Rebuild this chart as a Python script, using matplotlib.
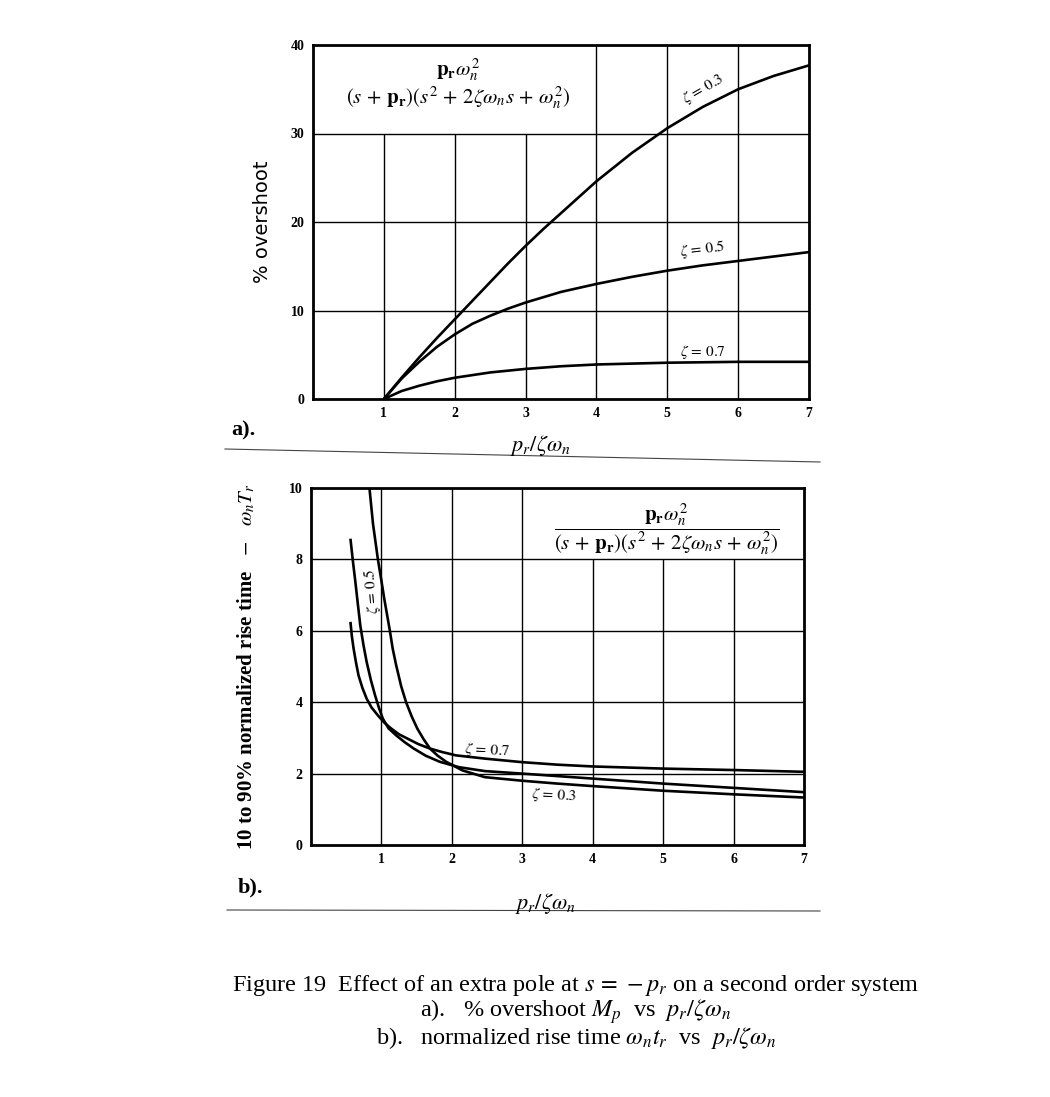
import matplotlib
matplotlib.use('Agg')
import matplotlib.pyplot as plt
from matplotlib.lines import Line2D

plt.rcParams['font.family'] = ['Liberation Serif', 'DejaVu Serif']
plt.rcParams['mathtext.fontset'] = 'stix'

# ------------------------------------------------------------
# data
# ------------------------------------------------------------

# (a) % overshoot vs p_r / zeta w_n
a_x_03 = [1, 1.25, 1.5, 1.75, 2, 2.25, 2.5, 2.75, 3, 3.25, 3.5, 4, 4.5, 5, 5.5, 6, 6.5, 7]
a_y_03 = [0, 2.4, 4.7, 6.9, 9.0, 11.1, 13.2, 15.3, 17.3, 19.2, 21.0, 24.6, 27.8, 30.6, 33.0, 35.0, 36.5, 37.7]

a_x_05 = [1, 1.25, 1.5, 1.75, 2, 2.25, 2.5, 2.75, 3, 3.5, 4, 4.5, 5, 5.5, 6, 6.5, 7]
a_y_05 = [0, 2.3, 4.2, 5.9, 7.3, 8.5, 9.4, 10.2, 10.9, 12.1, 13.0, 13.8, 14.5, 15.1, 15.6, 16.1, 16.6]

a_x_07 = [1, 1.25, 1.5, 1.75, 2, 2.5, 3, 3.5, 4, 4.5, 5, 5.5, 6, 6.5, 7]
a_y_07 = [0, 0.9, 1.5, 2.0, 2.4, 3.0, 3.4, 3.7, 3.9, 4.0, 4.1, 4.15, 4.2, 4.2, 4.2]

# (b) normalized rise time vs p_r / zeta w_n
b_x_03 = [0.83, 0.88, 0.95, 1.0, 1.04, 1.08, 1.12, 1.16, 1.21, 1.28, 1.35, 1.43, 1.51, 1.6, 1.69,
          1.8, 1.92, 2.15, 2.47, 3, 3.5, 4, 5, 6, 7]
b_y_03 = [10.0, 9.0, 8.0, 7.4, 6.9, 6.45, 6.0, 5.5, 5.03, 4.45, 4.0, 3.6, 3.26, 2.96, 2.70,
          2.5, 2.33, 2.09, 1.90, 1.80, 1.72, 1.65, 1.52, 1.42, 1.33]

b_x_05 = [0.56, 0.595, 0.63, 0.665, 0.70, 0.745, 0.79, 0.85, 0.91, 0.965, 1.02, 1.1, 1.21, 1.33, 1.46,
          1.63, 1.83, 2.1, 2.47, 3, 3.5, 4, 5, 6, 7]
b_y_05 = [8.58, 7.95, 7.37, 6.75, 6.15, 5.6, 5.13, 4.62, 4.19, 3.84, 3.54, 3.27, 3.07, 2.88, 2.70,
          2.5, 2.33, 2.18, 2.07, 2.0, 1.93, 1.86, 1.72, 1.60, 1.48]

b_x_07 = [0.56, 0.58, 0.605, 0.64, 0.675, 0.73, 0.79, 0.86, 0.95, 1.04, 1.14, 1.25, 1.37, 1.52, 1.69,
          1.87, 2.06, 2.47, 3, 3.5, 4, 5, 6, 7]
b_y_07 = [6.25, 5.85, 5.5, 5.1, 4.75, 4.4, 4.1, 3.85, 3.63, 3.43, 3.26, 3.1, 2.98, 2.83, 2.70,
          2.6, 2.51, 2.42, 2.32, 2.25, 2.2, 2.14, 2.1, 2.05]

x_ticks = [1, 2, 3, 4, 5, 6, 7]
a_y_ticks = [0, 10, 20, 30, 40]
b_y_ticks = [0, 2, 4, 6, 8, 10]

caption_lines = [
    r'Figure 19  Effect of an extra pole at $s\,=\,-p_r$ on a second order system',
    r'a).   % overshoot $M_p$  vs  $p_r/\zeta\omega_n$',
    r'b).   normalized rise time $\omega_n t_r$  vs  $p_r/\zeta\omega_n$',
]

W, H = 1050, 1097
fig = plt.figure(figsize=(W / 100, H / 100), dpi=100)
fig.patch.set_facecolor('white')

ax_a = fig.add_axes([313 / W, 1 - 399 / H, 496 / W, 354 / H])
ax_b = fig.add_axes([311 / W, 1 - 845 / H, 493 / W, 357 / H])

curve_kw = dict(color='black', lw=1.9, solid_capstyle='butt', solid_joinstyle='round')
grid_kw = dict(color='black', lw=1.0)

# ------------------------------------------------------------
# panel a
# ------------------------------------------------------------

ax_a.set_xlim(0, 7)
ax_a.set_ylim(0, 40)
for v in [10, 20, 30]:
    ax_a.axhline(v, **grid_kw)
ax_a.vlines([1, 2, 3], 0, 30, **grid_kw)
ax_a.vlines([4, 5, 6], 0, 40, **grid_kw)

ax_a.plot(a_x_03, a_y_03, **curve_kw)
ax_a.plot(a_x_05, a_y_05, **curve_kw)
ax_a.plot(a_x_07, a_y_07, **curve_kw)

ax_a.text(5.5, 35.0, r'$\zeta\,=\,0.3$', rotation=30, ha='center', va='center', fontsize=11)
ax_a.text(5.5, 16.9, r'$\zeta\,=\,0.5$', rotation=7, ha='center', va='center', fontsize=11)
ax_a.text(5.5, 5.3, r'$\zeta\,=\,0.7$', ha='center', va='center', fontsize=11)

ax_a.text(2.05, 37.2, r'$\mathbf{p_r}\omega_n^2$', ha='center', va='center', fontsize=15)
ax_a.text(2.05, 34.1, r'$(s\,+\,\mathbf{p_r})(s^2\,+\,2\zeta\omega_n s\,+\,\omega_n^2)$',
          ha='center', va='center', fontsize=15)

ax_a.set_xticks(x_ticks)
ax_a.set_yticks(a_y_ticks)

# ------------------------------------------------------------
# panel b
# ------------------------------------------------------------

ax_b.set_xlim(0, 7)
ax_b.set_ylim(0, 10)
for v in [2, 4, 6, 8]:
    ax_b.axhline(v, **grid_kw)
ax_b.vlines([1, 2, 3], 0, 10, **grid_kw)
ax_b.vlines([4, 5, 6], 0, 8, **grid_kw)

ax_b.plot(b_x_03, b_y_03, **curve_kw)
ax_b.plot(b_x_05, b_y_05, **curve_kw)
ax_b.plot(b_x_07, b_y_07, **curve_kw)

ax_b.text(2.5, 2.65, r'$\zeta\,=\,0.7$', rotation=-3, ha='center', va='center', fontsize=11)
ax_b.text(3.45, 1.40, r'$\zeta\,=\,0.3$', rotation=-3, ha='center', va='center', fontsize=11)
ax_b.text(0.86, 7.1, r'$\zeta\,=\,0.5$', rotation=95, ha='center', va='center', fontsize=11)

ax_b.text(5.05, 8.85,
          r'$\dfrac{\mathbf{p_r}\omega_n^2}{(s\,+\,\mathbf{p_r})(s^2\,+\,2\zeta\omega_n s\,+\,\omega_n^2)}$',
          ha='center', va='center', fontsize=15)

ax_b.set_xticks(x_ticks)
ax_b.set_yticks(b_y_ticks)

for ax in (ax_a, ax_b):
    for s in ax.spines.values():
        s.set_linewidth(2.0)
        s.set_color('black')
    ax.tick_params(length=0, pad=6)
    for lab in ax.get_xticklabels() + ax.get_yticklabels():
        lab.set_fontsize(10)
        lab.set_fontweight('bold')

# ------------------------------------------------------------
# axis titles, panel marks, rules
# ------------------------------------------------------------

fig.text(540 / W, 1 - 446 / H, r'$p_r/\zeta\omega_n$', ha='center', va='center', fontsize=16)
fig.text(545 / W, 1 - 903 / H, r'$p_r/\zeta\omega_n$', ha='center', va='center', fontsize=16)

fig.text(262 / W, 1 - 222 / H, '% overshoot', rotation=90, ha='center', va='center',
         fontsize=14, family='DejaVu Sans')
fig.text(246 / W, 1 - 667 / H, r'10 to 90% normalized rise time   $-$   $\omega_n T_r$',
         rotation=90, ha='center', va='center', fontsize=15, fontweight='bold')

fig.text(243 / W, 1 - 430 / H, 'a).', ha='center', va='center', fontsize=16, fontweight='bold')
fig.text(250 / W, 1 - 887 / H, 'b).', ha='center', va='center', fontsize=16, fontweight='bold')

fig.add_artist(Line2D([225 / W, 820 / W], [1 - 449 / H, 1 - 462 / H], color='#444444', lw=0.8))
fig.add_artist(Line2D([227 / W, 820 / W], [1 - 910 / H, 1 - 911 / H], color='#444444', lw=0.8))

# ------------------------------------------------------------
# caption
# ------------------------------------------------------------

fig.text(576 / W, 1 - 1012 / H, '\n'.join(caption_lines),
         ha='center', va='center', multialignment='center',
         fontsize=17.5, linespacing=0.95)

plt.savefig('out.png', dpi=100, facecolor='white')
